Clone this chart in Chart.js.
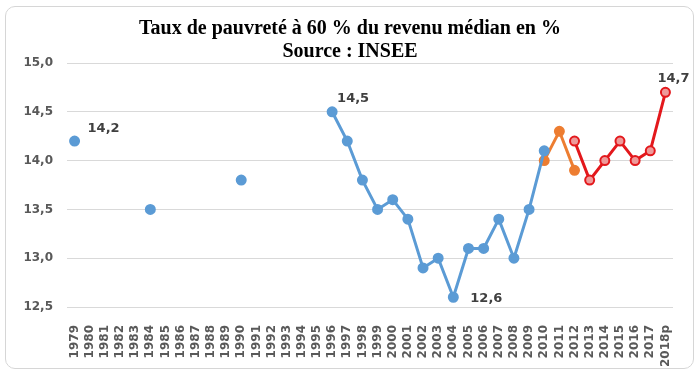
<!DOCTYPE html>
<html>
<head>
<meta charset="utf-8">
<script src="https://cdn.jsdelivr.net/npm/chart.js@4/dist/chart.umd.min.js"></script>
<style>
  html, body { margin: 0; padding: 0; background: #fff; }
  #wrap { position: relative; width: 700px; height: 375px; }
  #card {
    position: absolute; left: 5px; top: 6px; width: 687px; height: 361px;
    border: 1.5px solid #d6d6d6; border-radius: 10px; pointer-events: none;
  }
</style>
</head>
<body>
<div id="wrap">
  <canvas id="chart" width="700" height="375"></canvas>
  <div id="card"></div>
</div>
<script>
const years = ['1979', '1980', '1981', '1982', '1983', '1984', '1985', '1986', '1987', '1988',
    '1989', '1990', '1991', '1992', '1993', '1994', '1995', '1996', '1997', '1998',
    '1999', '2000', '2001', '2002', '2003', '2004', '2005', '2006', '2007', '2008',
    '2009', '2010', '2011', '2012', '2013', '2014', '2015', '2016', '2017', '2018p'];

// ancienne série (bleu)
const serieBleue = [14.2, null, null, null, null, 13.5, null, null, null, null,
    null, 13.8, null, null, null, null, null, 14.5, 14.2, 13.8,
    13.5, 13.6, 13.4, 12.9, 13.0, 12.6, 13.1, 13.1, 13.4, 13.0,
    13.5, 14.1, null, null, null, null, null, null, null, null];

// rupture 2010-2012 (orange)
const serieOrange = [null, null, null, null, null, null, null, null, null, null,
    null, null, null, null, null, null, null, null, null, null,
    null, null, null, null, null, null, null, null, null, null,
    null, 14.0, 14.3, 13.9, null, null, null, null, null, null];

// nouvelle série (rouge)
const serieRouge = [null, null, null, null, null, null, null, null, null, null,
    null, null, null, null, null, null, null, null, null, null,
    null, null, null, null, null, null, null, null, null, null,
    null, null, null, 14.2, 13.8, 14.0, 14.2, 14.0, 14.1, 14.7];

const yTicks = [12.5, 13.0, 13.5, 14.0, 14.5, 15.0];

// étiquettes : [dataset, index, dx, dy]
const etiquettes = [
    [0, 0, 29, -12],
    [0, 17, 21, -13],
    [0, 25, 33, 1],
    [2, 39, 8, -14]
];

const fmt = v => v.toFixed(1).replace('.', ',');

const labelPlugin = {
    id: 'etiquettes',
    afterDatasetsDraw(chart) {
        const ctx = chart.ctx;
        ctx.save();
        ctx.font = 'bold 13px "DejaVu Sans"';
        ctx.fillStyle = '#404040';
        ctx.textAlign = 'center';
        ctx.textBaseline = 'middle';
        etiquettes.forEach(([ds, i, dx, dy]) => {
            const pt = chart.getDatasetMeta(ds).data[i];
            const v = chart.data.datasets[ds].data[i];
            ctx.fillText(fmt(v), pt.x + dx, pt.y + dy);
        });
        ctx.restore();
    }
};

new Chart(document.getElementById('chart').getContext('2d'), {
    type: 'line',
    data: {
        labels: years,
        datasets: [{
            data: serieBleue,
            borderColor: '#5b9bd5',
            backgroundColor: '#5b9bd5',
            pointBackgroundColor: '#5b9bd5',
            pointBorderColor: '#5b9bd5',
            borderWidth: 3,
            pointRadius: 4,
            spanGaps: false
        }, {
            data: serieOrange,
            borderColor: '#ed7d31',
            backgroundColor: '#ed7d31',
            pointBackgroundColor: '#ed7d31',
            pointBorderColor: '#ed7d31',
            borderWidth: 3,
            pointRadius: 4
        }, {
            data: serieRouge,
            borderColor: '#e3181c',
            backgroundColor: '#e3181c',
            pointBackgroundColor: '#ee9a9a',
            pointBorderColor: '#e3181c',
            pointBorderWidth: 2,
            borderWidth: 3,
            pointRadius: 4.5
        }]
    },
    options: {
        responsive: false,
        animation: false,
        layout: { padding: 0 },
        plugins: {
            legend: { display: false },
            tooltip: { enabled: false },
            title: {
                display: true,
                text: ['Taux de pauvreté à 60 % du revenu médian en %', 'Source : INSEE'],
                font: { family: '"Liberation Serif"', size: 20, weight: 'bold', lineHeight: 1.15 },
                color: '#000',
                padding: { top: 17, bottom: 0 }
            }
        },
        scales: {
            x: {
                offset: true,
                grid: { display: false },
                border: { display: false },
                ticks: {
                    autoSkip: false,
                    minRotation: 90,
                    maxRotation: 90,
                    padding: 10,
                    color: '#595959',
                    font: { family: '"DejaVu Sans"', size: 12, weight: 'bold' }
                },
                afterFit(axis) { axis.height = 68; }
            },
            y: {
                min: 12.5,
                max: 15.0,
                grid: { color: '#d9d9d9', lineWidth: 1, drawTicks: false },
                border: { display: false },
                afterBuildTicks(axis) { axis.ticks = yTicks.map(v => ({ value: v })); },
                ticks: {
                    padding: 14,
                    color: '#595959',
                    font: { family: '"DejaVu Sans"', size: 12, weight: 'bold' },
                    callback: v => fmt(v)
                },
                afterFit(axis) { axis.width = 67; }
            },
            // axe vide à droite, pour garder le titre centré sur toute la largeur
            yDroite: {
                position: 'right',
                display: true,
                grid: { display: false },
                border: { display: false },
                ticks: { display: false },
                afterFit(axis) { axis.width = 27; }
            }
        }
    },
    plugins: [labelPlugin]
});
</script>
</body>
</html>
